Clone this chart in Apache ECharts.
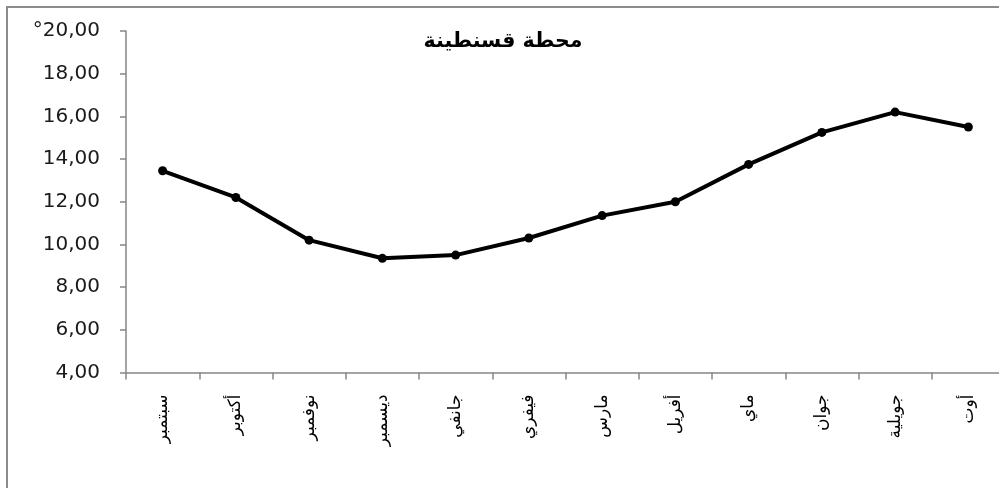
<!DOCTYPE html>
<html>
<head>
<meta charset="utf-8">
<script src="https://cdn.jsdelivr.net/npm/echarts@6/dist/echarts.min.js"></script>
<style>
html,body{margin:0;padding:0;background:#fff;overflow:hidden;width:999px;height:488px;}
#chart{width:1010px;height:488px;}
</style>
</head>
<body>
<div id="chart"></div>
<script>
const titleText = 'محطة قسنطينة';
const months = ['سبتمبر','أكتوبر','نوفمبر','ديسمبر','جانفي','فيفري','مارس','أفريل','ماي','جوان','جويلية','أوت'];
const temperatures = [13.45, 12.2, 10.2, 9.35, 9.5, 10.3, 11.35, 12.0, 13.75, 15.25, 16.2, 15.5];
const yMin = 4, yMax = 20, yStep = 2;

const chart = echarts.init(document.getElementById('chart'), null, {renderer: 'canvas'});
chart.setOption({
  animation: false,
  backgroundColor: '#ffffff',
  graphic: [{
    type: 'rect',
    shape: {x: 7, y: 7, width: 1200, height: 700},
    style: {fill: 'none', stroke: '#8c8c8c', lineWidth: 2},
    silent: true, z: -1
  }],
  title: {
    text: titleText,
    left: 498, top: 37,
    textAlign: 'center', textVerticalAlign: 'middle',
    textStyle: {fontFamily: 'DejaVu Sans', fontWeight: 'bold', fontSize: 20.5, color: '#000'}
  },
  grid: {left: 126, top: 31, right: 5, bottom: 115.5, containLabel: false},
  xAxis: {
    type: 'category',
    data: months,
    boundaryGap: true,
    axisLine: {lineStyle: {color: '#868686', width: 1.5}},
    axisTick: {show: true, alignWithLabel: false, length: 7, lineStyle: {color: '#868686', width: 1.5}},
    axisLabel: {rotate: 90, margin: 22, interval: 0, fontFamily: 'DejaVu Sans', fontSize: 17, color: '#000'},
    splitLine: {show: false}
  },
  yAxis: {
    type: 'value',
    min: yMin, max: yMax, interval: yStep,
    axisLine: {show: true, lineStyle: {color: '#868686', width: 1.5}},
    axisTick: {show: true, length: 6, lineStyle: {color: '#868686', width: 1.5}},
    axisLabel: {
      margin: 26,
      fontFamily: 'DejaVu Sans', fontSize: 20, color: '#1a1a1a',
      formatter: function (v) {
        const s = v.toFixed(2).replace('.', ',');
        return v === yMax ? '°' + s : s;
      }
    },
    splitLine: {show: false}
  },
  series: [{
    type: 'line',
    data: temperatures,
    symbol: 'circle',
    symbolSize: 9,
    lineStyle: {color: '#000', width: 4},
    itemStyle: {color: '#000'}
  }]
});
</script>
</body>
</html>
